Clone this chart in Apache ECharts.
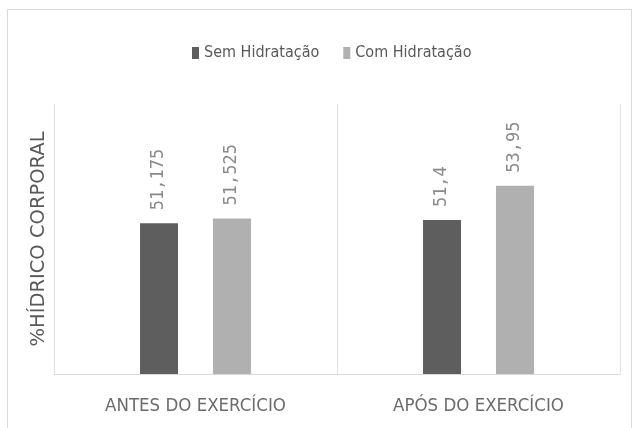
<!DOCTYPE html>
<html>
<head>
<meta charset="utf-8">
<script src="https://cdn.jsdelivr.net/npm/echarts@6/dist/echarts.min.js"></script>
<style>
html,body{margin:0;padding:0;background:#fff;}
#chart{width:636px;height:428px;}
</style>
</head>
<body>
<div id="chart"></div>
<script>
const categories = ['ANTES DO EXERCÍCIO', 'APÓS DO EXERCÍCIO'];
const seriesNames = ['Sem Hidratação', 'Com Hidratação'];
const semHidratacao = [51.175, 51.4];
const comHidratacao = [51.525, 53.95];
const yTitle = '%HÍDRICO CORPORAL';

const narrow = '"Liberation Sans Narrow", "DejaVu Sans Condensed", "Roboto", sans-serif';
const fmt = p => String(p.value).replace('.', ',');

const chart = echarts.init(document.getElementById('chart'), null, {renderer: 'canvas'});
const labelCfg = {
  show: true,
  position: 'top',
  rotate: 90,
  align: 'left',
  verticalAlign: 'middle',
  distance: 13,
  fontFamily: '"DejaVu Sans Mono", monospace',
  fontSize: 17,
  color: '#8a8a8a',
  formatter: fmt
};
chart.setOption({
  animation: false,
  backgroundColor: '#fff',
  graphic: [{
    type: 'rect',
    shape: {x: 7.5, y: 9.5, width: 624, height: 440},
    style: {fill: 'none', stroke: '#d9d9d9', lineWidth: 1},
    silent: true
  }],
  legend: {
    top: 40,
    left: 187,
    itemWidth: 7,
    itemHeight: 12,
    itemGap: 24,
    icon: 'rect',
    textStyle: {fontFamily: narrow, fontSize: 16, color: '#595959'},
    data: seriesNames
  },
  grid: {left: 54, right: 16, top: 104, bottom: 54, containLabel: false},
  xAxis: {
    type: 'category',
    data: categories,
    axisLine: {show: true, lineStyle: {color: '#d9d9d9', width: 1}},
    axisTick: {show: false},
    splitLine: {show: true, lineStyle: {color: '#e3e3e3', width: 1}},
    axisLabel: {fontFamily: narrow, fontSize: 18.5, color: '#6b6b6b', margin: 23}
  },
  yAxis: {
    type: 'value',
    min: 40,
    max: 60,
    name: yTitle,
    nameLocation: 'middle',
    nameGap: 5,
    nameRotate: 90,
    nameTextStyle: {fontFamily: '"DejaVu Sans", sans-serif', fontSize: 19.5, color: '#595959'},
    axisLine: {show: false},
    axisTick: {show: false},
    axisLabel: {show: false},
    splitLine: {show: false}
  },
  series: [
    {
      name: seriesNames[0],
      type: 'bar',
      data: semHidratacao,
      barWidth: 38,
      barGap: '92%',
      itemStyle: {color: '#5e5e5e'},
      label: labelCfg
    },
    {
      name: seriesNames[1],
      type: 'bar',
      data: comHidratacao,
      barWidth: 38,
      itemStyle: {color: '#b0b0b0'},
      label: labelCfg
    }
  ]
});
</script>
</body>
</html>
